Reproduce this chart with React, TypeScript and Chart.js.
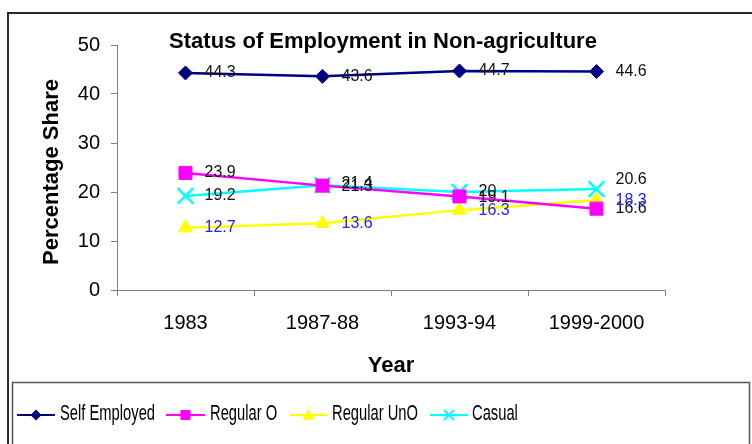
import React, { useEffect, useRef } from "react";
import { Chart, registerables } from "chart.js";

Chart.register(...registerables);

const categories = ["1983", "1987-88", "1993-94", "1999-2000"];
const selfEmployed = [44.3, 43.6, 44.7, 44.6];
const regularO = [23.9, 21.3, 19.1, 16.6];
const regularUnO = [12.7, 13.6, 16.3, 18.3];
const casual = [19.2, 21.4, 20, 20.6];
const yTicks = [0, 10, 20, 30, 40, 50];

const FONT = "Arial, 'Liberation Sans', sans-serif";

function drawMarker(ctx: CanvasRenderingContext2D, style: string, x: number, y: number, r: number, color: string) {
  ctx.save();
  ctx.fillStyle = color;
  ctx.strokeStyle = color;
  ctx.beginPath();
  if (style === "rectRot") {
    ctx.moveTo(x, y - r);
    ctx.lineTo(x + r, y);
    ctx.lineTo(x, y + r);
    ctx.lineTo(x - r, y);
    ctx.closePath();
    ctx.fill();
  } else if (style === "rect") {
    ctx.rect(x - r, y - r, 2 * r, 2 * r);
    ctx.fill();
  } else if (style === "triangle") {
    ctx.moveTo(x, y - r);
    ctx.lineTo(x + r, y + r * 0.8);
    ctx.lineTo(x - r, y + r * 0.8);
    ctx.closePath();
    ctx.fill();
  } else {
    ctx.lineWidth = 2;
    ctx.moveTo(x - r, y - r);
    ctx.lineTo(x + r, y + r);
    ctx.moveTo(x + r, y - r);
    ctx.lineTo(x - r, y + r);
    ctx.stroke();
  }
  ctx.restore();
}

const decorPlugin = {
  id: "decor",
  beforeDraw(chart: any) {
    const ctx = chart.ctx;
    ctx.save();
    ctx.fillStyle = "#ffffff";
    ctx.fillRect(0, 0, chart.width, chart.height);
    ctx.restore();
  },
  afterDatasetsDraw(chart: any) {
    const ctx = chart.ctx;
    ctx.save();
    ctx.font = `16px ${FONT}`;
    ctx.textAlign = "left";
    ctx.textBaseline = "middle";
    chart.data.datasets.forEach((ds: any, i: number) => {
      const meta = chart.getDatasetMeta(i);
      meta.data.forEach((pt: any, j: number) => {
        const dy = ds.labelShift ? ds.labelShift[j] : 0;
        ctx.fillStyle = ds.labelColor;
        ctx.fillText(String(ds.data[j]), pt.x + 19, pt.y + dy);
      });
    });
    ctx.restore();
  },
  afterDraw(chart: any) {
    const ctx = chart.ctx;
    const area = chart.chartArea;
    ctx.save();
    ctx.strokeStyle = "#2a2a2a";
    ctx.lineWidth = 2;
    ctx.strokeRect(8, 13, 760, 450);
    ctx.fillStyle = "#000";
    ctx.font = `bold 22px ${FONT}`;
    ctx.textAlign = "center";
    ctx.textBaseline = "middle";
    ctx.fillText("Status of Employment in Non-agriculture", 383, 42);
    ctx.fillText("Year", (area.left + area.right) / 2, 366);
    ctx.save();
    ctx.translate(52, 172);
    ctx.rotate(-Math.PI / 2);
    ctx.fillText("Percentage Share", 0, 0);
    ctx.restore();
    ctx.strokeStyle = "#555";
    ctx.lineWidth = 1.5;
    ctx.strokeRect(12.5, 382.5, 737, 80);
    const items = [
      { x0: 17, x1: 55, tx: 60 },
      { x0: 166, x1: 205, tx: 210 },
      { x0: 290, x1: 327, tx: 332 },
      { x0: 430, x1: 468, tx: 472 },
    ];
    const ly = 415;
    ctx.font = `22px ${FONT}`;
    ctx.textAlign = "left";
    chart.data.datasets.forEach((ds: any, i: number) => {
      const it = items[i];
      ctx.strokeStyle = ds.borderColor;
      ctx.lineWidth = 2;
      ctx.beginPath();
      ctx.moveTo(it.x0, ly);
      ctx.lineTo(it.x1, ly);
      ctx.stroke();
      drawMarker(ctx, ds.pointStyle, (it.x0 + it.x1) / 2, ly, ds.legendRadius, ds.borderColor);
      ctx.save();
      ctx.translate(it.tx, ly - 1.5);
      ctx.scale(0.67, 1);
      ctx.fillStyle = "#000";
      ctx.fillText(ds.label, 0, 0);
      ctx.restore();
    });
    ctx.restore();
  },
};

export default function App() {
  const ref = useRef<HTMLCanvasElement | null>(null);
  useEffect(() => {
    document.body.style.margin = "0";
    if (!ref.current) return;
    const mk = (
      label: string,
      data: number[],
      color: string,
      style: string,
      radius: number,
      legendRadius: number,
      labelColor: string,
      labelShift: number[]
    ) => ({
      label,
      data,
      borderColor: color,
      backgroundColor: color,
      pointBackgroundColor: color,
      pointBorderColor: color,
      pointStyle: style,
      pointRadius: radius,
      pointHoverRadius: radius,
      pointBorderWidth: style === "crossRot" ? 2.5 : 1,
      borderWidth: 2.5,
      tension: 0,
      legendRadius,
      labelColor,
      labelShift,
    });
    const chart = new Chart(ref.current, {
      type: "line",
      data: {
        labels: categories,
        datasets: [
          mk("Self Employed", selfEmployed, "#000080", "rectRot", 7, 5.5, "#111", [0, 0, 0, 0]),
          mk("Regular O", regularO, "#ff00ff", "rect", 9.2, 5, "#111", [0, 1, 1, 0]),
          mk("Regular UnO", regularUnO, "#ffff00", "triangle", 8, 6, "#2222ff", [0, 0, 0, 0]),
          mk("Casual", casual, "#00ffff", "crossRot", 11, 5, "#111", [0, -2, 0, -9]),
        ] as any,
      },
      options: {
        animation: false,
        responsive: false,
        events: [],
        layout: { padding: { left: 0, top: 45, right: 87, bottom: 0 } },
        plugins: {
          legend: { display: false },
          tooltip: { enabled: false },
          title: { display: false },
        },
        scales: {
          x: {
            type: "category",
            offset: true,
            afterFit: (s: any) => {
              s.height = 154;
            },
            grid: {
              offset: true,
              drawOnChartArea: false,
              drawTicks: true,
              tickLength: 6,
              color: "#808080",
            },
            border: { display: true, color: "#808080", width: 1 },
            ticks: {
              color: "#000",
              font: { family: FONT, size: 20 },
              padding: 15,
              maxRotation: 0,
            },
          },
          y: {
            min: 0,
            max: 50,
            afterFit: (s: any) => {
              s.width = 117;
            },
            afterBuildTicks: (s: any) => {
              s.ticks = yTicks.map((v) => ({ value: v }));
            },
            grid: {
              drawOnChartArea: false,
              drawTicks: true,
              tickLength: 6,
              color: "#808080",
            },
            border: { display: true, color: "#808080", width: 1 },
            ticks: {
              color: "#000",
              font: { family: FONT, size: 20 },
              padding: 11,
            },
          },
        },
      },
      plugins: [decorPlugin],
    } as any);
    return () => chart.destroy();
  }, []);
  return (
    <div style={{ position: "absolute", left: 0, top: 0, width: 752, height: 444 }}>
      <canvas ref={ref} width={752} height={444} style={{ width: 752, height: 444, display: "block" }} />
    </div>
  );
}
